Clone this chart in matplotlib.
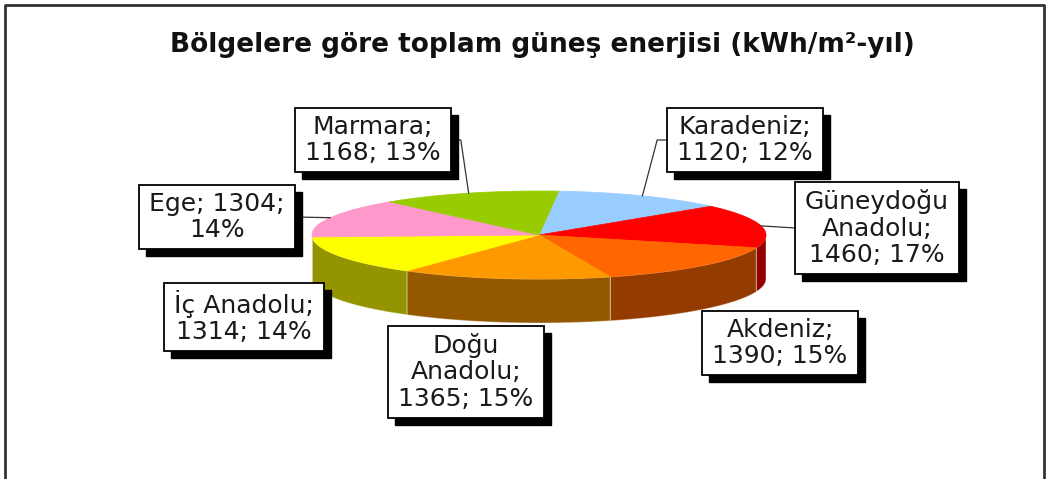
import numpy as np
import matplotlib.pyplot as plt
from matplotlib.patches import Polygon, Rectangle
from matplotlib.colors import to_rgb

# data
regions = ["Karadeniz", "Güneydoğu\nAnadolu", "Akdeniz", "Doğu\nAnadolu",
           "İç Anadolu", "Ege", "Marmara"]
values = [1120, 1460, 1390, 1365, 1314, 1304, 1168]
percents = [12, 17, 15, 15, 14, 14, 13]
colors = ["#99CCFF", "#FF0000", "#FF6600", "#FF9900", "#FFFF00", "#FF99CC", "#99CC00"]

labels = [f"{r};\n{v}; {p}%" for r, v, p in zip(regions, values, percents)]
labels[5] = f"{regions[5]}; {values[5]};\n{percents[5]}%"

# layout (pixel space of the figure)
label_pos = [(745, 140), (877, 228), (780, 343), (466, 372),
             (244, 317), (217, 217), (373, 140)]
leader = [True, True, False, False, False, True, True]
cx, cy, ra, rb, depth = 539, 235, 227, 44, 44
start = 85
padx, pady, shadow = 10, 7, 7

fig = plt.figure(figsize=(10.62, 4.79), dpi=100)
ax = fig.add_axes([0, 0, 1, 1])
ax.set_xlim(0, 1062)
ax.set_ylim(479, 0)
ax.axis("off")

# outer frame
ax.plot([5, 5, 1044, 1044], [479, 5, 5, 479], color="#333333", lw=2, solid_capstyle="butt")

ax.text(542, 45, "Bölgelere göre toplam güneş enerjisi (kWh/m²-yıl)",
        ha="center", va="center", fontsize=19, fontweight="bold", color="#111111")

vals = np.array(values, dtype=float)
frac = vals / vals.sum()
bounds = start - 360 * np.concatenate([[0], np.cumsum(frac)])


def ell(t, dy=0):
    t = np.radians(t)
    return np.column_stack([cx + ra * np.cos(t), cy - rb * np.sin(t) + dy])


# side walls (front half only: angles between -180 and 0)
for i in range(len(values)):
    t1, t2 = bounds[i], bounds[i + 1]
    for shift in (0, 360):
        lo = max(t2 + shift, -180)
        hi = min(t1 + shift, 0)
        if hi <= lo:
            continue
        ts = np.linspace(lo, hi, 60)
        pts = np.vstack([ell(ts), ell(ts[::-1], depth)])
        dark = tuple(c * 0.58 for c in to_rgb(colors[i]))
        ax.add_patch(Polygon(pts, closed=True, facecolor=dark,
                             edgecolor=(1, 1, 1, 0.35), lw=0.8, zorder=2))

# top wedges
for i in range(len(values)):
    ts = np.linspace(bounds[i], bounds[i + 1], 80)
    pts = np.vstack([[cx, cy], ell(ts)])
    ax.add_patch(Polygon(pts, closed=True, facecolor=colors[i],
                         edgecolor=colors[i], lw=0.5, zorder=3))

# labels
texts = []
for i, lab in enumerate(labels):
    x, y = label_pos[i]
    t = ax.text(x, y, lab, ha="center", va="center", fontsize=18,
                linespacing=1.12, color="#1a1a1a", zorder=7)
    texts.append(t)

fig.canvas.draw()
renderer = fig.canvas.get_renderer()
inv = ax.transData.inverted()
mids = (bounds[:-1] + bounds[1:]) / 2
for i, t in enumerate(texts):
    bb = t.get_window_extent(renderer)
    (x0, ya), (x1, yb) = inv.transform([[bb.x0, bb.y0], [bb.x1, bb.y1]])
    y0, y1 = min(ya, yb), max(ya, yb)
    x0, x1, y0, y1 = x0 - padx, x1 + padx, y0 - pady, y1 + pady
    # drop shadow, then white box
    ax.add_patch(Rectangle((x0 + shadow, y0 + shadow), x1 - x0, y1 - y0,
                           facecolor="black", edgecolor="black", zorder=5))
    ax.add_patch(Rectangle((x0, y0), x1 - x0, y1 - y0, facecolor="white",
                           edgecolor="black", lw=1.3, zorder=6))
    if not leader[i]:
        continue
    px, py = ell([mids[i]])[0]
    ly = label_pos[i][1]
    edge = x1 if px > x1 else x0
    if abs(py - ly) > 20:
        elbow = edge + (10 if px > edge else -10)
        xs, ys = [px, elbow, edge], [py, ly, ly]
    else:
        xs, ys = [px, edge], [py, ly]
    ax.plot(xs, ys, color="#333333", lw=0.9, zorder=4)

fig.savefig("out.png", dpi=100)
